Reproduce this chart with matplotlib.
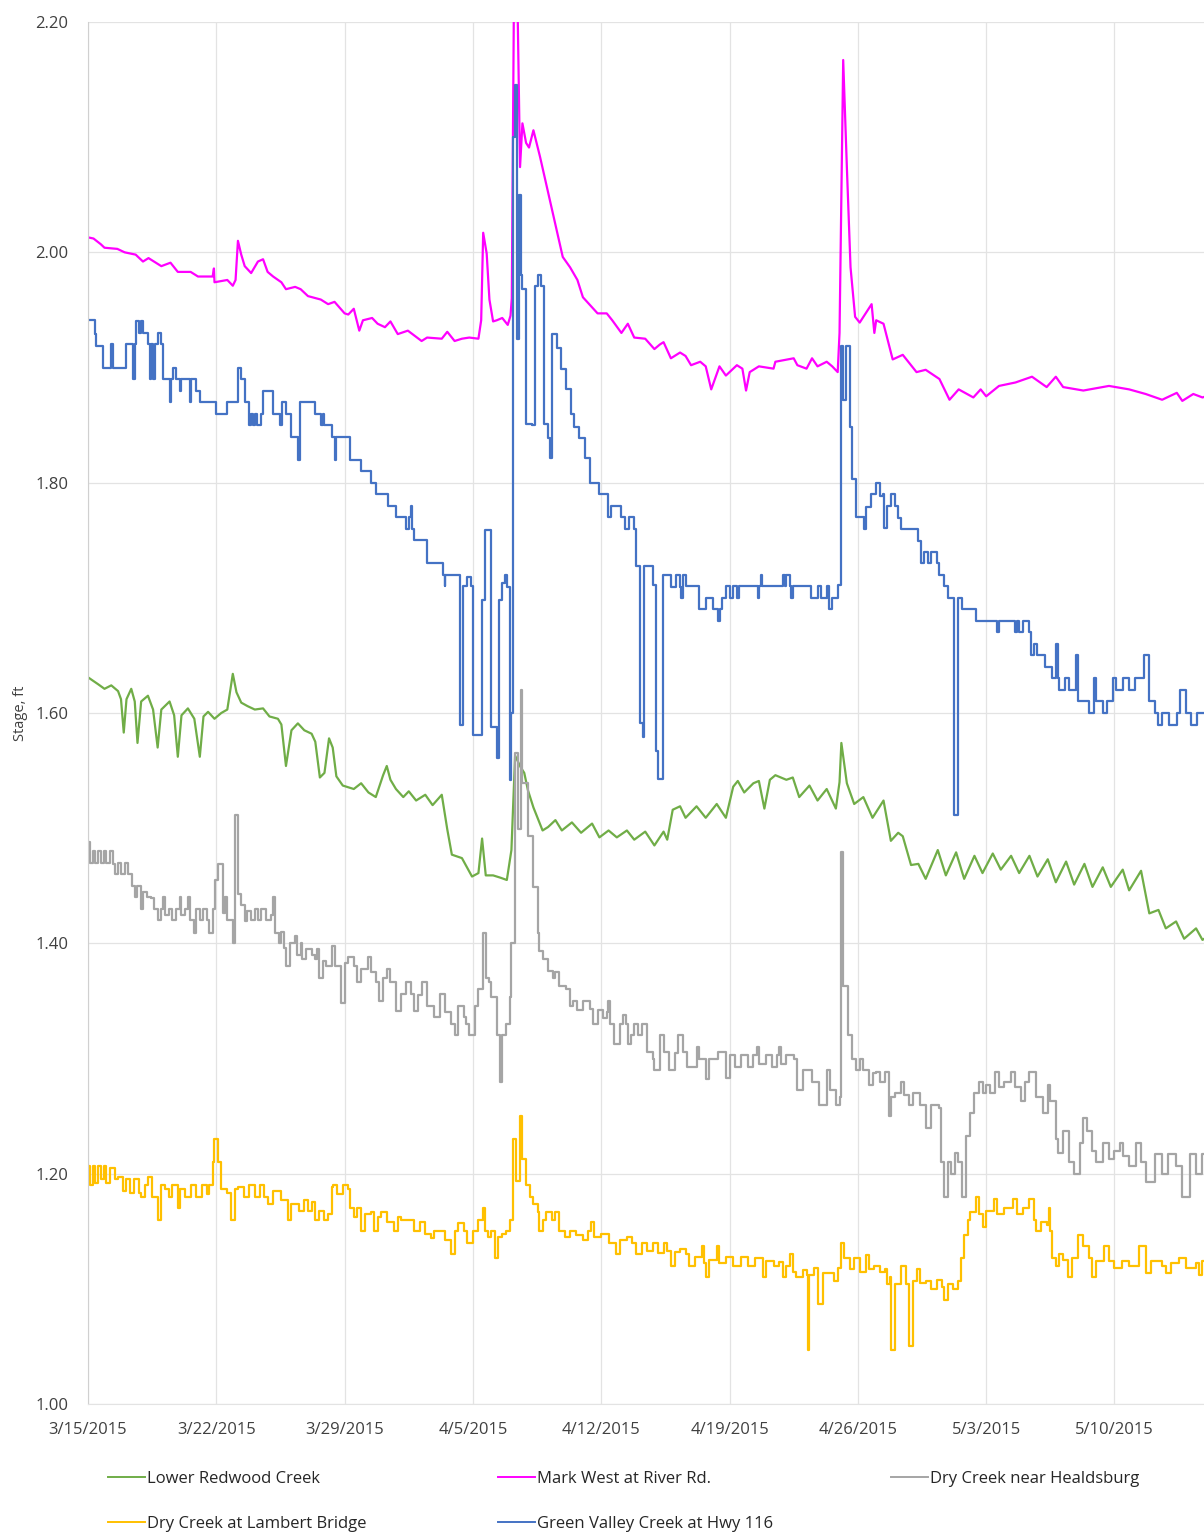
import numpy as np
import matplotlib
matplotlib.use("Agg")
import matplotlib.pyplot as plt

plt.rcParams['font.family'] = ['Open Sans', 'DejaVu Sans']

# days after 3/15/2015, stage in ft
tick_days = [0, 7, 14, 21, 28, 35, 42, 49, 56]
tick_labels = ['3/15/2015', '3/22/2015', '3/29/2015', '4/5/2015', '4/12/2015',
               '4/19/2015', '4/26/2015', '5/3/2015', '5/10/2015']
y_ticks = [1.0, 1.2, 1.4, 1.6, 1.8, 2.0, 2.2]

lower_redwood = [
    (0.0, 1.631), (0.55, 1.625), (0.9, 1.621), (1.27, 1.624), (1.64, 1.619), (1.8, 1.612), (1.95, 1.583),
    (2.1, 1.612), (2.36, 1.621), (2.55, 1.610), (2.7, 1.574), (2.9, 1.610), (3.27, 1.615), (3.55, 1.603),
    (3.8, 1.570), (4.0, 1.603), (4.45, 1.610), (4.7, 1.598), (4.9, 1.562), (5.1, 1.598), (5.45, 1.604),
    (5.8, 1.595), (6.1, 1.562), (6.3, 1.597), (6.55, 1.601), (6.9, 1.595), (7.27, 1.600), (7.6, 1.603),
    (7.9, 1.634), (8.1, 1.618), (8.36, 1.609), (8.7, 1.606), (9.1, 1.603), (9.55, 1.604), (9.9, 1.597),
    (10.36, 1.595), (10.55, 1.590), (10.8, 1.554), (11.1, 1.585), (11.45, 1.591), (11.8, 1.585),
    (12.2, 1.582), (12.4, 1.575), (12.65, 1.544), (12.9, 1.548), (13.15, 1.578), (13.35, 1.570),
    (13.55, 1.545), (13.9, 1.537), (14.5, 1.534), (14.9, 1.539), (15.3, 1.531), (15.7, 1.527),
    (16.1, 1.546), (16.3, 1.554), (16.5, 1.542), (16.8, 1.534), (17.2, 1.527), (17.5, 1.532),
    (17.9, 1.524), (18.4, 1.529), (18.8, 1.520), (19.3, 1.529), (19.6, 1.499), (19.85, 1.477),
    (20.4, 1.474), (20.95, 1.458), (21.3, 1.461), (21.5, 1.491), (21.7, 1.459), (22.1, 1.459),
    (22.5, 1.457), (22.85, 1.455), (23.1, 1.481), (23.3, 1.563), (23.6, 1.553), (23.8, 1.548),
    (24.0, 1.533), (24.3, 1.518), (24.8, 1.498), (25.1, 1.501), (25.5, 1.507), (25.85, 1.498),
    (26.4, 1.505), (26.9, 1.496), (27.5, 1.504), (27.9, 1.492), (28.4, 1.498), (28.85, 1.492),
    (29.4, 1.498), (29.8, 1.490), (30.4, 1.497), (30.9, 1.485), (31.4, 1.497), (31.6, 1.490),
    (31.9, 1.516), (32.3, 1.519), (32.6, 1.509), (33.2, 1.519), (33.7, 1.509), (34.3, 1.521),
    (34.8, 1.509), (35.2, 1.536), (35.45, 1.541), (35.8, 1.531), (36.3, 1.539), (36.6, 1.541),
    (36.9, 1.517), (37.2, 1.542), (37.5, 1.546), (38.1, 1.542), (38.45, 1.544), (38.8, 1.527),
    (39.36, 1.537), (39.8, 1.524), (40.3, 1.534), (40.8, 1.517), (41.0, 1.540), (41.1, 1.574),
    (41.4, 1.539), (41.8, 1.521), (42.3, 1.527), (42.8, 1.509), (43.4, 1.524), (43.8, 1.489),
    (44.2, 1.496), (44.45, 1.493), (44.9, 1.468), (45.3, 1.469), (45.7, 1.456), (46.36, 1.481),
    (46.8, 1.459), (47.36, 1.479), (47.8, 1.456), (48.36, 1.476), (48.8, 1.461), (49.36, 1.478),
    (49.8, 1.464), (50.36, 1.476), (50.8, 1.461), (51.36, 1.476), (51.8, 1.458), (52.36, 1.473),
    (52.8, 1.453), (53.36, 1.471), (53.8, 1.451), (54.36, 1.469), (54.8, 1.449), (55.36, 1.466),
    (55.8, 1.449), (56.45, 1.464), (56.8, 1.446), (57.45, 1.463), (57.9, 1.426), (58.4, 1.429),
    (58.8, 1.413), (59.36, 1.419), (59.8, 1.404), (60.45, 1.413), (60.8, 1.403), (61.0, 1.405),
]

mark_west = [
    (0.0, 2.013), (0.3, 2.012), (0.7, 2.007), (0.9, 2.004), (1.6, 2.003), (2.0, 2.000), (2.6, 1.998),
    (3.0, 1.992), (3.3, 1.995), (4.0, 1.988), (4.5, 1.991), (4.9, 1.983), (5.6, 1.983), (6.0, 1.979),
    (6.8, 1.979), (6.87, 1.986), (6.9, 1.974), (7.6, 1.976), (7.9, 1.971), (8.05, 1.976), (8.18, 2.010),
    (8.36, 1.998), (8.55, 1.988), (8.9, 1.982), (9.27, 1.992), (9.55, 1.994), (9.8, 1.983), (10.1, 1.979),
    (10.55, 1.974), (10.8, 1.968), (11.3, 1.970), (11.6, 1.968), (12.0, 1.962), (12.7, 1.959),
    (13.1, 1.955), (13.45, 1.957), (14.0, 1.947), (14.2, 1.946), (14.5, 1.951), (14.8, 1.932),
    (15.0, 1.941), (15.5, 1.943), (15.8, 1.938), (16.2, 1.935), (16.5, 1.940), (16.9, 1.929),
    (17.45, 1.932), (18.2, 1.923), (18.5, 1.926), (19.3, 1.925), (19.6, 1.931), (20.0, 1.923),
    (20.4, 1.925), (20.8, 1.926), (21.3, 1.925), (21.45, 1.941), (21.56, 2.017), (21.75, 1.999),
    (21.9, 1.959), (22.1, 1.940), (22.3, 1.941), (22.6, 1.943), (22.9, 1.937), (23.05, 1.945),
    (23.12, 1.960), (23.25, 2.25), (23.4, 2.25), (23.57, 2.074), (23.7, 2.112), (23.9, 2.095),
    (24.06, 2.091), (24.3, 2.106), (24.66, 2.083), (25.2, 2.045), (25.9, 1.996), (26.3, 1.987),
    (26.7, 1.976), (27.0, 1.961), (27.8, 1.947), (28.3, 1.947), (28.6, 1.941), (29.1, 1.930),
    (29.45, 1.938), (29.8, 1.926), (30.4, 1.925), (30.9, 1.916), (31.2, 1.920), (31.4, 1.922),
    (31.8, 1.908), (32.3, 1.913), (32.6, 1.910), (32.9, 1.902), (33.4, 1.905), (33.7, 1.901),
    (34.0, 1.881), (34.45, 1.901), (34.8, 1.893), (35.4, 1.902), (35.7, 1.899), (35.9, 1.880),
    (36.1, 1.896), (36.6, 1.901), (37.4, 1.899), (37.5, 1.905), (38.5, 1.908), (38.7, 1.902),
    (39.2, 1.899), (39.5, 1.908), (39.8, 1.901), (40.3, 1.905), (40.6, 1.901), (40.9, 1.896),
    (41.0, 1.930), (41.2, 2.167), (41.4, 2.074), (41.6, 1.987), (41.85, 1.944), (42.1, 1.939),
    (42.55, 1.950), (42.75, 1.955), (42.9, 1.930), (43.0, 1.941), (43.4, 1.938), (43.9, 1.907),
    (44.45, 1.911), (45.2, 1.896), (45.7, 1.898), (46.45, 1.890), (47.0, 1.872), (47.5, 1.881),
    (48.3, 1.874), (48.7, 1.881), (49.0, 1.875), (49.7, 1.884), (50.6, 1.887), (51.5, 1.892),
    (52.3, 1.883), (52.8, 1.892), (53.2, 1.883), (54.3, 1.880), (55.7, 1.884), (56.8, 1.881),
    (57.7, 1.877), (58.6, 1.872), (59.4, 1.878), (59.7, 1.871), (60.3, 1.877), (60.8, 1.874),
    (61.0, 1.875),
]

dry_creek_healdsburg = [
    (0.0, 1.488), (0.1, 1.470), (0.25, 1.480), (0.4, 1.470), (0.55, 1.480), (0.7, 1.470), (0.85, 1.480),
    (1.0, 1.470), (1.2, 1.480), (1.36, 1.469), (1.5, 1.460), (1.64, 1.470), (1.8, 1.460), (2.0, 1.470),
    (2.2, 1.460), (2.4, 1.450), (2.55, 1.440), (2.7, 1.450), (2.9, 1.430), (3.0, 1.445), (3.2, 1.440),
    (3.45, 1.439), (3.6, 1.430), (3.8, 1.420), (4.0, 1.430), (4.1, 1.440), (4.2, 1.425), (4.4, 1.430),
    (4.6, 1.420), (4.8, 1.430), (5.0, 1.440), (5.1, 1.425), (5.3, 1.430), (5.45, 1.440), (5.55, 1.420),
    (5.8, 1.409), (5.9, 1.430), (6.1, 1.420), (6.3, 1.430), (6.5, 1.420), (6.6, 1.409), (6.8, 1.430),
    (6.95, 1.455), (7.1, 1.469), (7.36, 1.426), (7.45, 1.440), (7.6, 1.420), (7.9, 1.400), (8.0, 1.511),
    (8.2, 1.443), (8.36, 1.433), (8.55, 1.419), (8.7, 1.428), (8.9, 1.420), (9.1, 1.430), (9.3, 1.420),
    (9.45, 1.430), (9.7, 1.420), (10.0, 1.425), (10.1, 1.440), (10.2, 1.409), (10.4, 1.400),
    (10.55, 1.410), (10.7, 1.396), (10.8, 1.380), (11.0, 1.400), (11.27, 1.406), (11.4, 1.390),
    (11.6, 1.400), (11.7, 1.386), (11.9, 1.395), (12.2, 1.390), (12.36, 1.386), (12.5, 1.395),
    (12.6, 1.370), (12.8, 1.385), (13.0, 1.380), (13.3, 1.398), (13.5, 1.380), (13.8, 1.348),
    (14.0, 1.383), (14.2, 1.388), (14.5, 1.380), (14.7, 1.366), (14.9, 1.378), (15.3, 1.388),
    (15.45, 1.375), (15.7, 1.366), (15.9, 1.350), (16.1, 1.370), (16.3, 1.378), (16.5, 1.366),
    (16.8, 1.341), (17.1, 1.356), (17.36, 1.366), (17.6, 1.356), (17.8, 1.341), (18.0, 1.355),
    (18.2, 1.366), (18.5, 1.346), (18.9, 1.336), (19.2, 1.356), (19.45, 1.340), (19.8, 1.330),
    (20.0, 1.320), (20.2, 1.346), (20.5, 1.336), (20.6, 1.330), (20.8, 1.320), (21.1, 1.346),
    (21.3, 1.360), (21.55, 1.409), (21.7, 1.370), (21.9, 1.366), (22.0, 1.353), (22.3, 1.320),
    (22.45, 1.280), (22.6, 1.320), (22.8, 1.330), (23.0, 1.353), (23.1, 1.400), (23.3, 1.565),
    (23.45, 1.499), (23.6, 1.620), (23.7, 1.539), (24.0, 1.493), (24.3, 1.449), (24.55, 1.409),
    (24.6, 1.393), (24.8, 1.386), (25.1, 1.376), (25.36, 1.370), (25.5, 1.375), (25.7, 1.363),
    (26.1, 1.360), (26.27, 1.346), (26.45, 1.350), (26.7, 1.342), (27.0, 1.350), (27.36, 1.343),
    (27.55, 1.330), (27.8, 1.342), (28.1, 1.335), (28.3, 1.340), (28.36, 1.350), (28.5, 1.330),
    (28.7, 1.313), (29.0, 1.330), (29.2, 1.338), (29.36, 1.330), (29.45, 1.313), (29.6, 1.320),
    (29.8, 1.330), (30.0, 1.320), (30.2, 1.330), (30.5, 1.306), (30.8, 1.300), (30.9, 1.290),
    (31.2, 1.320), (31.45, 1.306), (31.7, 1.290), (32.0, 1.305), (32.2, 1.320), (32.45, 1.306),
    (32.7, 1.293), (33.2, 1.310), (33.36, 1.300), (33.7, 1.282), (33.9, 1.300), (34.36, 1.306),
    (34.8, 1.283), (35.0, 1.303), (35.3, 1.293), (35.6, 1.303), (36.0, 1.293), (36.3, 1.303),
    (36.5, 1.310), (36.6, 1.295), (37.0, 1.303), (37.3, 1.293), (37.6, 1.303), (37.7, 1.310),
    (37.8, 1.295), (38.1, 1.303), (38.5, 1.300), (38.7, 1.273), (39.0, 1.290), (39.5, 1.280),
    (39.9, 1.260), (40.3, 1.290), (40.5, 1.273), (40.8, 1.260), (41.0, 1.267), (41.1, 1.479),
    (41.2, 1.363), (41.45, 1.320), (41.7, 1.300), (41.9, 1.290), (42.1, 1.300), (42.3, 1.290),
    (42.6, 1.277), (42.8, 1.287), (43.0, 1.288), (43.2, 1.280), (43.5, 1.288), (43.7, 1.250),
    (43.8, 1.267), (44.0, 1.270), (44.36, 1.280), (44.5, 1.268), (44.8, 1.260), (45.0, 1.270),
    (45.2, 1.270), (45.4, 1.260), (45.7, 1.240), (46.0, 1.260), (46.45, 1.257), (46.55, 1.210),
    (46.7, 1.180), (46.9, 1.210), (47.1, 1.200), (47.3, 1.218), (47.45, 1.210), (47.7, 1.180),
    (47.9, 1.233), (48.1, 1.253), (48.36, 1.270), (48.6, 1.280), (48.8, 1.270), (49.0, 1.277),
    (49.2, 1.270), (49.5, 1.288), (49.7, 1.275), (50.0, 1.280), (50.36, 1.288), (50.6, 1.275),
    (50.9, 1.263), (51.1, 1.280), (51.36, 1.288), (51.7, 1.267), (52.1, 1.253), (52.36, 1.277),
    (52.5, 1.263), (52.8, 1.230), (52.9, 1.218), (53.2, 1.237), (53.5, 1.210), (53.8, 1.200),
    (54.1, 1.227), (54.3, 1.248), (54.5, 1.237), (54.8, 1.220), (55.0, 1.210), (55.36, 1.227),
    (55.7, 1.213), (56.0, 1.220), (56.3, 1.227), (56.45, 1.215), (56.8, 1.207), (57.2, 1.227),
    (57.45, 1.210), (57.7, 1.193), (58.2, 1.217), (58.6, 1.200), (58.9, 1.217), (59.36, 1.207),
    (59.7, 1.180), (60.1, 1.217), (60.45, 1.200), (60.8, 1.217), (61.0, 1.205),
]

dry_creek_lambert = [
    (0.0, 1.207), (0.1, 1.190), (0.25, 1.207), (0.4, 1.192), (0.55, 1.207), (0.7, 1.195), (0.85, 1.207),
    (1.0, 1.192), (1.2, 1.205), (1.45, 1.195), (1.64, 1.197), (1.9, 1.185), (2.1, 1.195), (2.3, 1.183),
    (2.5, 1.195), (2.8, 1.183), (2.9, 1.180), (3.1, 1.190), (3.27, 1.197), (3.5, 1.180), (3.8, 1.160),
    (4.0, 1.190), (4.2, 1.187), (4.4, 1.180), (4.6, 1.190), (4.9, 1.170), (5.0, 1.187), (5.3, 1.180),
    (5.6, 1.190), (5.9, 1.180), (6.2, 1.190), (6.5, 1.182), (6.6, 1.190), (6.8, 1.210), (6.9, 1.230),
    (7.1, 1.210), (7.27, 1.187), (7.6, 1.183), (7.8, 1.160), (8.0, 1.187), (8.2, 1.188), (8.5, 1.180),
    (8.8, 1.190), (9.1, 1.180), (9.4, 1.190), (9.6, 1.180), (9.8, 1.174), (10.1, 1.185), (10.55, 1.177),
    (10.9, 1.160), (11.1, 1.174), (11.27, 1.174), (11.5, 1.168), (11.8, 1.177), (12.0, 1.168),
    (12.2, 1.175), (12.36, 1.160), (12.6, 1.168), (12.9, 1.160), (13.1, 1.165), (13.3, 1.188),
    (13.36, 1.190), (13.6, 1.182), (13.9, 1.190), (14.2, 1.187), (14.27, 1.170), (14.5, 1.162),
    (14.7, 1.170), (14.9, 1.150), (15.1, 1.165), (15.45, 1.167), (15.6, 1.150), (15.8, 1.162),
    (16.0, 1.167), (16.3, 1.158), (16.7, 1.150), (16.9, 1.162), (17.1, 1.160), (17.5, 1.160),
    (17.8, 1.150), (18.1, 1.158), (18.4, 1.148), (18.7, 1.144), (18.9, 1.150), (19.27, 1.150),
    (19.5, 1.142), (19.8, 1.130), (20.0, 1.150), (20.2, 1.157), (20.5, 1.150), (20.7, 1.140),
    (21.0, 1.150), (21.27, 1.160), (21.55, 1.170), (21.65, 1.150), (21.8, 1.145), (22.0, 1.150),
    (22.2, 1.127), (22.36, 1.145), (22.6, 1.148), (22.8, 1.150), (23.0, 1.160), (23.2, 1.230),
    (23.36, 1.194), (23.55, 1.250), (23.7, 1.213), (23.9, 1.190), (24.1, 1.180), (24.27, 1.174),
    (24.55, 1.167), (24.6, 1.150), (24.8, 1.160), (25.0, 1.167), (25.3, 1.160), (25.5, 1.167),
    (25.7, 1.150), (26.0, 1.145), (26.3, 1.150), (26.6, 1.147), (27.0, 1.142), (27.3, 1.150),
    (27.45, 1.158), (27.6, 1.145), (28.0, 1.148), (28.4, 1.140), (28.8, 1.130), (29.0, 1.142),
    (29.4, 1.145), (29.7, 1.140), (29.9, 1.130), (30.2, 1.140), (30.5, 1.133), (30.8, 1.140),
    (31.1, 1.131), (31.4, 1.140), (31.6, 1.133), (31.8, 1.120), (32.0, 1.132), (32.3, 1.135),
    (32.6, 1.130), (32.8, 1.120), (33.1, 1.128), (33.5, 1.137), (33.6, 1.122), (33.7, 1.110),
    (33.9, 1.125), (34.3, 1.137), (34.4, 1.122), (34.8, 1.128), (35.2, 1.120), (35.6, 1.128),
    (36.0, 1.120), (36.4, 1.127), (36.8, 1.110), (37.0, 1.124), (37.4, 1.120), (37.7, 1.123),
    (37.9, 1.110), (38.1, 1.120), (38.3, 1.130), (38.45, 1.115), (38.6, 1.110), (39.0, 1.116),
    (39.2, 1.112), (39.3, 1.047), (39.36, 1.112), (39.6, 1.118), (39.8, 1.087), (40.1, 1.114),
    (40.45, 1.114), (40.7, 1.107), (40.9, 1.118), (41.1, 1.140), (41.27, 1.127), (41.55, 1.117),
    (41.8, 1.127), (42.1, 1.115), (42.45, 1.129), (42.6, 1.117), (42.9, 1.120), (43.2, 1.115),
    (43.5, 1.117), (43.6, 1.104), (43.75, 1.110), (43.8, 1.047), (44.0, 1.104), (44.36, 1.120),
    (44.6, 1.104), (44.8, 1.050), (45.0, 1.107), (45.2, 1.117), (45.4, 1.105), (45.7, 1.107),
    (46.0, 1.100), (46.3, 1.108), (46.6, 1.102), (46.7, 1.090), (46.9, 1.104), (47.2, 1.100),
    (47.45, 1.107), (47.6, 1.127), (47.8, 1.147), (48.0, 1.160), (48.1, 1.167), (48.45, 1.180),
    (48.6, 1.165), (48.8, 1.154), (49.0, 1.168), (49.45, 1.178), (49.6, 1.165), (50.0, 1.170),
    (50.45, 1.178), (50.7, 1.165), (51.0, 1.170), (51.36, 1.178), (51.6, 1.160), (51.7, 1.150),
    (52.0, 1.158), (52.3, 1.155), (52.45, 1.170), (52.5, 1.150), (52.6, 1.127), (52.8, 1.120),
    (53.0, 1.130), (53.2, 1.125), (53.45, 1.110), (53.7, 1.127), (54.0, 1.147), (54.3, 1.137),
    (54.6, 1.127), (54.8, 1.110), (55.0, 1.124), (55.45, 1.137), (55.7, 1.124), (56.0, 1.118),
    (56.4, 1.124), (56.8, 1.120), (57.36, 1.137), (57.7, 1.114), (58.0, 1.124), (58.6, 1.120),
    (58.8, 1.114), (59.1, 1.122), (59.5, 1.127), (59.9, 1.118), (60.45, 1.122), (60.6, 1.112),
    (60.8, 1.124), (61.0, 1.120),
]

green_valley = [
    (0.0, 1.941), (0.3, 1.941), (0.36, 1.929), (0.45, 1.919), (0.6, 1.919), (0.82, 1.900), (1.18, 1.900),
    (1.27, 1.920), (1.36, 1.900), (2.0, 1.900), (2.1, 1.920), (2.36, 1.920), (2.45, 1.890), (2.55, 1.920),
    (2.64, 1.940), (2.8, 1.930), (2.9, 1.940), (3.0, 1.930), (3.3, 1.920), (3.36, 1.890), (3.45, 1.920),
    (3.55, 1.890), (3.65, 1.920), (3.8, 1.930), (4.0, 1.920), (4.1, 1.890), (4.3, 1.890), (4.45, 1.870),
    (4.55, 1.890), (4.64, 1.900), (4.8, 1.890), (5.0, 1.880), (5.1, 1.890), (5.45, 1.890), (5.55, 1.870),
    (5.64, 1.890), (5.9, 1.880), (6.1, 1.870), (6.9, 1.870), (7.0, 1.860), (7.5, 1.860), (7.6, 1.870),
    (8.1, 1.870), (8.2, 1.900), (8.36, 1.890), (8.55, 1.870), (8.7, 1.870), (8.8, 1.850), (8.9, 1.860),
    (9.0, 1.850), (9.1, 1.860), (9.2, 1.850), (9.45, 1.860), (9.55, 1.880), (10.0, 1.880), (10.1, 1.860),
    (10.36, 1.860), (10.45, 1.850), (10.6, 1.870), (10.8, 1.860), (11.1, 1.840), (11.45, 1.820),
    (11.55, 1.870), (12.2, 1.870), (12.36, 1.860), (12.6, 1.860), (12.7, 1.850), (12.8, 1.860),
    (12.9, 1.850), (13.1, 1.850), (13.3, 1.840), (13.45, 1.820), (13.55, 1.840), (14.2, 1.840),
    (14.3, 1.820), (14.7, 1.820), (14.9, 1.810), (15.36, 1.810), (15.45, 1.800), (15.6, 1.800),
    (15.7, 1.790), (16.2, 1.790), (16.36, 1.780), (16.7, 1.780), (16.8, 1.770), (17.3, 1.770),
    (17.36, 1.760), (17.5, 1.770), (17.6, 1.780), (17.7, 1.760), (17.8, 1.750), (18.36, 1.750),
    (18.5, 1.730), (19.2, 1.730), (19.36, 1.720), (19.45, 1.710), (19.5, 1.720), (20.2, 1.720),
    (20.3, 1.590), (20.45, 1.710), (20.6, 1.710), (20.7, 1.718), (20.9, 1.710), (21.0, 1.581),
    (21.3, 1.581), (21.5, 1.698), (21.66, 1.759), (21.8, 1.759), (22.0, 1.588), (22.3, 1.561),
    (22.4, 1.698), (22.6, 1.713), (22.75, 1.720), (22.85, 1.709), (23.0, 1.542), (23.1, 1.600),
    (23.2, 2.100), (23.3, 2.145), (23.4, 1.925), (23.5, 2.050), (23.6, 1.980), (23.7, 1.968),
    (23.9, 1.851), (24.2, 1.850), (24.36, 1.971), (24.55, 1.980), (24.7, 1.971), (24.9, 1.851),
    (25.1, 1.839), (25.2, 1.821), (25.3, 1.929), (25.45, 1.929), (25.6, 1.917), (25.8, 1.899),
    (26.1, 1.881), (26.36, 1.860), (26.5, 1.848), (26.8, 1.839), (27.1, 1.821), (27.36, 1.800),
    (27.7, 1.800), (27.9, 1.790), (28.3, 1.790), (28.36, 1.770), (28.55, 1.780), (28.8, 1.780),
    (29.1, 1.770), (29.3, 1.760), (29.5, 1.770), (29.8, 1.760), (29.9, 1.728), (30.1, 1.591),
    (30.3, 1.579), (30.36, 1.728), (30.7, 1.728), (30.8, 1.711), (31.0, 1.567), (31.1, 1.543),
    (31.2, 1.543), (31.36, 1.720), (31.7, 1.720), (31.8, 1.709), (32.1, 1.720), (32.3, 1.709),
    (32.36, 1.700), (32.45, 1.720), (32.6, 1.710), (33.2, 1.710), (33.36, 1.690), (33.7, 1.700),
    (34.1, 1.690), (34.36, 1.680), (34.5, 1.690), (34.6, 1.700), (34.8, 1.710), (35.0, 1.700),
    (35.2, 1.710), (35.4, 1.700), (35.5, 1.710), (36.45, 1.710), (36.55, 1.700), (36.6, 1.710),
    (36.7, 1.720), (36.75, 1.710), (37.7, 1.710), (37.9, 1.720), (38.0, 1.710), (38.1, 1.720),
    (38.3, 1.710), (38.36, 1.700), (38.45, 1.710), (39.36, 1.710), (39.45, 1.700), (39.6, 1.700),
    (39.8, 1.710), (40.0, 1.700), (40.3, 1.710), (40.45, 1.690), (40.6, 1.700), (40.9, 1.711),
    (41.1, 1.919), (41.2, 1.872), (41.36, 1.919), (41.55, 1.848), (41.7, 1.803), (41.9, 1.770),
    (42.3, 1.770), (42.36, 1.760), (42.45, 1.779), (42.7, 1.790), (43.0, 1.800), (43.2, 1.788),
    (43.36, 1.790), (43.45, 1.761), (43.6, 1.780), (43.8, 1.790), (44.0, 1.780), (44.2, 1.769),
    (44.36, 1.760), (45.2, 1.760), (45.3, 1.749), (45.45, 1.730), (45.6, 1.740), (45.8, 1.730),
    (46.0, 1.740), (46.3, 1.730), (46.45, 1.720), (46.7, 1.710), (46.9, 1.700), (47.1, 1.700),
    (47.27, 1.511), (47.45, 1.700), (47.6, 1.700), (47.7, 1.690), (48.36, 1.690), (48.45, 1.680),
    (49.5, 1.680), (49.6, 1.670), (49.7, 1.680), (50.45, 1.680), (50.55, 1.670), (50.7, 1.680),
    (50.8, 1.670), (51.0, 1.680), (51.36, 1.670), (51.45, 1.650), (51.6, 1.660), (51.8, 1.650),
    (52.1, 1.650), (52.2, 1.640), (52.45, 1.640), (52.6, 1.630), (52.8, 1.660), (52.9, 1.630),
    (53.0, 1.620), (53.3, 1.630), (53.5, 1.620), (53.8, 1.620), (53.9, 1.650), (54.0, 1.610),
    (54.5, 1.610), (54.6, 1.600), (54.9, 1.630), (55.0, 1.610), (55.36, 1.600), (55.6, 1.610),
    (55.9, 1.630), (56.1, 1.620), (56.45, 1.630), (56.8, 1.620), (57.1, 1.630), (57.36, 1.630),
    (57.6, 1.650), (57.9, 1.610), (58.2, 1.600), (58.4, 1.590), (58.6, 1.600), (59.0, 1.590),
    (59.4, 1.600), (59.6, 1.620), (59.9, 1.600), (60.2, 1.590), (60.5, 1.600), (61.0, 1.600),
]

# name, points, colour, drawstyle (gauges that report in 0.01 ft steps are drawn stepwise)
series = [
    ('Lower Redwood Creek', lower_redwood, '#70AD47', 'default'),
    ('Mark West at River Rd.', mark_west, '#FF00FF', 'default'),
    ('Dry Creek near Healdsburg', dry_creek_healdsburg, '#A5A5A5', 'steps-post'),
    ('Dry Creek at Lambert Bridge', dry_creek_lambert, '#FFC000', 'steps-post'),
    ('Green Valley Creek at Hwy 116', green_valley, '#4472C4', 'steps-post'),
]

W, H = 1204, 1535
fig = plt.figure(figsize=(W / 100, H / 100), dpi=100)
ax = fig.add_axes([88 / W, 1 - 1404 / H, (W - 88) / W, (1404 - 22) / H])

lines = {}
for name, pts, col, ds in series:
    arr = np.array(pts)
    ln, = ax.plot(arr[:, 0], arr[:, 1], color=col, lw=1.6, label=name, drawstyle=ds)
    lines[name] = ln

ax.set_xlim(0, (W - 88) / 18.33)
ax.set_ylim(1.0, 2.2)
ax.set_yticks(y_ticks)
ax.set_yticklabels(['%.2f' % v for v in y_ticks])
ax.set_xticks(tick_days)
ax.set_xticklabels(tick_labels)
ax.tick_params(axis='both', length=0, labelsize=12, labelcolor='#404040')
ax.tick_params(axis='y', pad=14)
ax.tick_params(axis='x', pad=13)
ax.grid(True, color='#e3e3e3', lw=0.9)
ax.set_axisbelow(True)
for s in ['top', 'right']:
    ax.spines[s].set_visible(False)
ax.spines['left'].set_color('#d0d0d0')
ax.spines['bottom'].set_color('#e3e3e3')

fig.text(20 / W, 1 - 713 / H, 'Stage, ft', rotation=90, ha='center', va='center',
         fontsize=10.5, color='#404040')

# legend laid out in three columns, filled row by row
cols = [(['Lower Redwood Creek', 'Dry Creek at Lambert Bridge'], 108),
        (['Mark West at River Rd.', 'Green Valley Creek at Hwy 116'], 498),
        (['Dry Creek near Healdsburg'], 891)]
for names, xpx in cols:
    leg = fig.legend([lines[n] for n in names], names, loc='upper left',
                     bbox_to_anchor=(xpx / W, 1 - 1471 / H), frameon=False,
                     fontsize=12, handlelength=2.2, handletextpad=0.15,
                     borderpad=0, borderaxespad=0, labelspacing=1.75)
    for t in leg.get_texts():
        t.set_color('#262626')
    for h in leg.get_lines():
        h.set_linewidth(1.4)
        h.set_drawstyle('default')

fig.savefig('out.png', dpi=100)
